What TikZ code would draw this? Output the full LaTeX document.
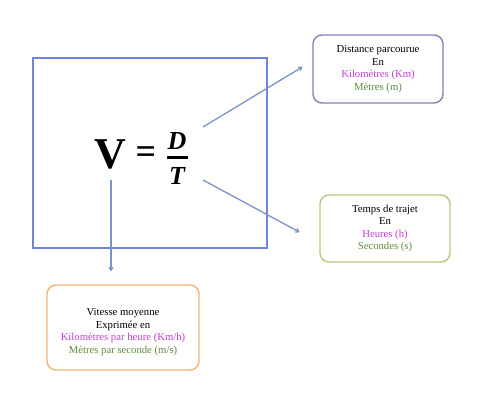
\documentclass[tikz,border=0pt]{standalone}
\usepackage{fontspec}
\setmainfont{Liberation Serif}
\usepackage{tikz}
\usetikzlibrary{arrows.meta}
\definecolor{cadre}{HTML}{6F84E0}
\definecolor{fleche}{HTML}{7A93C8}
\definecolor{violetbox}{HTML}{8E7DB0}
\definecolor{vertbox}{HTML}{B9C77F}
\definecolor{orangebox}{HTML}{F0B478}
\definecolor{magenta}{HTML}{C43ED6}
\definecolor{vert}{HTML}{5E8B3E}
\tikzset{
  infobox/.style={draw, line width=1.4pt, rounded corners=9pt, align=center,
    font=\fontsize{10.7}{12.6}\selectfont},
  fleche/.style={draw=fleche, line width=1.3pt, -{To[length=4pt,width=5pt]}}
}
\begin{document}
\begin{tikzpicture}[x=1pt,y=-1pt]
\useasboundingbox (0,0) rectangle (482,415);
\draw [cadre, line width=1.8pt] (33,58) rectangle (267,248);
\node (V) at (110,154) {\fontsize{44}{44}\selectfont\bfseries V};
\node (egal) at (146,155) {\fontsize{36}{36}\selectfont\bfseries =};
\node (D) at (177,141) {\fontsize{26}{26}\selectfont\bfseries\itshape D};
\node (T) at (177,176) {\fontsize{26}{26}\selectfont\bfseries\itshape T};
\draw [line width=2.6pt] (167,157.5)--(188,157.5);
\node [infobox, draw=violetbox, minimum width=130pt, minimum height=68pt] (dist) at (378,69)
  {Distance parcourue\\En\\\textcolor{magenta}{Kilomètres (Km)}\\\textcolor{vert}{Mètres (m)}};
\node [infobox, draw=vertbox, minimum width=130pt, minimum height=67pt] (temps) at (385,228.5)
  {Temps de trajet\\En\\\textcolor{magenta}{Heures (h)}\\\textcolor{vert}{Secondes (s)}};
\node [infobox, draw=orangebox, minimum width=152pt, minimum height=85pt] (vitbox) at (123,327.5) {};
\node [infobox, draw=none] (vit) at (123,332)
  {Vitesse moyenne\\Exprimée en\\\textcolor{magenta}{Kilomètres par heure (Km/h)}\\\textcolor{vert}{Mètres par seconde (m/s)}};
\coordinate (hautD) at (203,127);
\coordinate (basT) at (203,180);
\coordinate (basV) at (111,180);
\draw [fleche] (hautD)--([xshift=-10pt]dist.west |- 0,67);
\draw [fleche] (basT)--([xshift=-20pt]temps.west |- 0,232);
\draw [fleche] (basV)--(basV |- 0,271);
\end{tikzpicture}
\end{document}
